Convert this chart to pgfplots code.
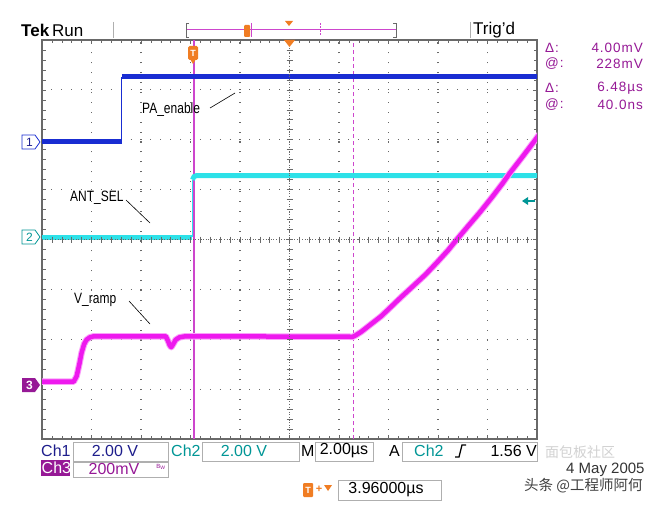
\documentclass[border=0pt]{standalone}
\usepackage{fontspec}
\setmainfont{Liberation Sans}
\newfontfamily\narrow{Liberation Sans}[FakeStretch=0.8]
\newfontfamily\wide{Liberation Sans}[LetterSpace=7]
\newfontfamily\cjk{Noto Sans CJK SC}
\usepackage{pgfplots}
\pgfplotsset{compat=1.18}
\definecolor{c1}{RGB}{25,45,210}
\definecolor{c1t}{RGB}{30,30,140}
\definecolor{c2}{RGB}{45,225,232}
\definecolor{c2t}{RGB}{0,150,150}
\definecolor{c3}{RGB}{238,25,238}
\definecolor{c3h}{RGB}{250,160,250}
\definecolor{c3t}{RGB}{150,25,150}
\definecolor{cur}{RGB}{205,70,205}
\definecolor{org}{RGB}{240,125,35}
\definecolor{grd}{RGB}{105,105,105}
\definecolor{boxc}{RGB}{175,175,175}
\begin{document}
\begin{tikzpicture}
\path[use as bounding box, fill=white] (0pt,0pt) rectangle (661pt,-505pt);
\begin{axis}[
  at={(42pt,-439pt)}, anchor=south west,
  scale only axis, width=495pt, height=399pt,
  xmin=0, xmax=10, ymin=-4, ymax=4,
  xtick={0,...,10}, ytick={-4,...,4},
  xticklabels={}, yticklabels={},
  minor x tick num=4, minor y tick num=4,
  tick align=inside,
  major tick length=4pt, minor tick length=3.5pt,
  every tick/.style={grd, line width=0.6pt},
  grid=major,
  major grid style={grd, line width=1.1pt, dash pattern=on 1.1pt off 8.8pt, dash phase=0.55pt},
  axis line style={grd, line width=1.8pt},
  clip=true,
]
% cursors
\addplot[cur, line width=1.2pt] coordinates {(3.07,-4) (3.07,4)};
\addplot[cur, line width=1.2pt, dash pattern=on 4pt off 3pt] coordinates {(6.29,-4) (6.29,4)};
% Ch1
\addplot[c1, line width=5pt] coordinates {(-0.1,1.96) (1.615,1.96)};
\addplot[c1, line width=1pt] coordinates {(1.615,1.96) (1.615,3.26)};
\addplot[c1, line width=5pt] coordinates {(1.615,3.26) (10.1,3.26)};
% Ch2
\addplot[c2, line width=5pt] coordinates {(-0.1,0.05) (3.04,0.05)};
\addplot[c2, line width=1pt] coordinates {(3.04,0.05) (3.04,1.2)};
\addplot[c2, line width=5pt] coordinates {(3.04,1.2) (3.07,1.26) (3.12,1.28) (10.1,1.28)};
% Ch3
\addplot[c3h, line width=6.5pt, line join=round] coordinates {
(-0.1,-2.85) (0.64,-2.85) (0.70,-2.74) (0.75,-2.52) (0.80,-2.27) (0.85,-2.10) (0.90,-2.01) (0.97,-1.96) (1.05,-1.94)
(2.50,-1.94) (2.54,-2.02) (2.58,-2.12) (2.61,-2.16) (2.65,-2.10) (2.70,-2.01) (2.78,-1.96) (2.9,-1.94)
(6.28,-1.95) (6.34,-1.92) (6.45,-1.85) (6.63,-1.71) (6.85,-1.54) (7.03,-1.37) (7.25,-1.16) (7.49,-0.94)
(7.75,-0.70) (7.98,-0.46) (8.2,-0.22) (8.38,0.0) (8.6,0.26) (8.85,0.55) (9.1,0.86) (9.3,1.12) (9.45,1.33)
(9.7,1.65) (9.96,1.99) (10.1,2.18)};
\addplot[c3, line width=4.5pt, line join=round] coordinates {
(-0.1,-2.85) (0.64,-2.85) (0.70,-2.74) (0.75,-2.52) (0.80,-2.27) (0.85,-2.10) (0.90,-2.01) (0.97,-1.96) (1.05,-1.94)
(2.50,-1.94) (2.54,-2.02) (2.58,-2.12) (2.61,-2.16) (2.65,-2.10) (2.70,-2.01) (2.78,-1.96) (2.9,-1.94)
(6.28,-1.95) (6.34,-1.92) (6.45,-1.85) (6.63,-1.71) (6.85,-1.54) (7.03,-1.37) (7.25,-1.16) (7.49,-0.94)
(7.75,-0.70) (7.98,-0.46) (8.2,-0.22) (8.38,0.0) (8.6,0.26) (8.85,0.55) (9.1,0.86) (9.3,1.12) (9.45,1.33)
(9.7,1.65) (9.96,1.99) (10.1,2.18)};
\end{axis}
\begin{scope}[x=1pt,y=-1pt]
% center lines of graticule
\draw[grd, line width=0.8pt, dash pattern=on 0.8pt off 1.8pt] (289.5,40) -- (289.5,439);
\draw[grd, line width=0.8pt, dash pattern=on 0.8pt off 1.8pt] (42,239.5) -- (537,239.5);
\foreach \i in {1,...,49} {\draw[grd, line width=0.6pt] (42+\i*9.9,236.5) -- (42+\i*9.9,242.5);}
\foreach \i in {1,...,39} {\draw[grd, line width=0.6pt] (286.5,40+\i*9.975) -- (292.5,40+\i*9.975);}
% top bar
\node[anchor=west, inner sep=0pt, font=\fontsize{17}{17}\selectfont] at (21,30) {\textbf{Tek}\,Run};
\draw[boxc, line width=0.8pt] (113,22) -- (113,38);
\draw[boxc, line width=0.8pt] (470,22) -- (470,38);
\draw[cur, line width=1pt] (186,30) -- (396,30);
\draw[grd, line width=0.9pt] (189,23) -- (186,23) -- (186,37) -- (189,37);
\draw[grd, line width=0.9pt] (393,23) -- (396,23) -- (396,37) -- (393,37);
\draw[cur, line width=0.8pt] (251,23) -- (251,37);
\draw[cur, line width=0.8pt, dash pattern=on 2pt off 1.5pt] (320,23) -- (320,37);
\fill[org, rounded corners=1pt] (244,25) rectangle (250,37);
\fill[org] (285,21) -- (293,21) -- (289,26) -- cycle;
\node[anchor=west, inner sep=0pt, font=\fontsize{17}{17}\selectfont] at (473,30) {Trig'd};
% trigger markers on graticule
\fill[org] (284,40) -- (295,40) -- (289.5,47) -- cycle;
\fill[org, rounded corners=1.5pt] (188,46) rectangle (198,60);
\fill[org] (190,59) -- (196,59) -- (193,64) -- cycle;
\node[white, inner sep=0pt, font=\bfseries\fontsize{9}{9}\selectfont] at (193,53) {T};
% trigger level arrow
\fill[c2t] (522,201) -- (528,197) -- (528,205) -- cycle;
\draw[c2t, line width=1.5pt] (527,201) -- (535,201);
% channel markers
\draw[c1, line width=0.8pt, fill=white] (22,135) -- (35,135) -- (40,142) -- (35,149) -- (22,149) -- cycle;
\node[c1t, inner sep=0pt, font=\fontsize{12}{12}\selectfont] at (29.5,142) {1};
\draw[c2t, line width=0.8pt, fill=white] (22,230) -- (35,230) -- (40,237) -- (35,244) -- (22,244) -- cycle;
\node[c2t, inner sep=0pt, font=\fontsize{12}{12}\selectfont] at (29.5,237) {2};
\fill[c3t] (22,378) -- (35,378) -- (40,385) -- (35,392) -- (22,392) -- cycle;
\node[white, inner sep=0pt, font=\bfseries\fontsize{12}{12}\selectfont] at (29.5,385) {3};
% trace labels
\node[anchor=west, inner sep=0pt, font=\narrow\fontsize{15}{15}\selectfont] at (142,110) {PA\_enable};
\draw[black, line width=0.6pt] (210,108) -- (235,93);
\node[anchor=west, inner sep=0pt, font=\narrow\fontsize{15}{15}\selectfont] at (70,198) {ANT\_SEL};
\draw[black, line width=0.6pt] (126,200) -- (150,223);
\node[anchor=west, inner sep=0pt, font=\narrow\fontsize{15}{15}\selectfont] at (74,300) {V\_ramp};
\draw[black, line width=0.6pt] (129,301) -- (150,324);
% right readouts
\begin{scope}[font=\wide\fontsize{13.5}{13.5}\selectfont, text=c3t]
\node[anchor=west, inner sep=0pt] at (545,47.5) {Δ:};
\node[anchor=east, inner sep=0pt] at (643,47.5) {4.00mV};
\node[anchor=west, inner sep=0pt] at (545,64) {@:};
\node[anchor=east, inner sep=0pt] at (643,64) {228mV};
\node[anchor=west, inner sep=0pt] at (545,88) {Δ:};
\node[anchor=east, inner sep=0pt] at (643,88) {6.48µs};
\node[anchor=west, inner sep=0pt] at (545,104.5) {@:};
\node[anchor=east, inner sep=0pt] at (643,104.5) {40.0ns};
\end{scope}
% bottom readouts
\begin{scope}[font=\fontsize{16}{16}\selectfont]
\node[c1t, anchor=west, inner sep=0pt] at (41,451) {Ch1};
\draw[boxc, line width=0.7pt] (73,442) rectangle (168,461);
\node[c1t, inner sep=0pt] at (115,451) {2.00 V};
\node[c2t, anchor=west, inner sep=0pt] at (171,451) {Ch2};
\draw[boxc, line width=0.7pt] (202,442) rectangle (299,461);
\node[c2t, inner sep=0pt] at (244,451) {2.00 V};
\node[anchor=west, inner sep=0pt] at (301,451) {M};
\draw[boxc, line width=0.7pt] (315,442) rectangle (373,461);
\node[inner sep=0pt] at (344,451) {2.00µs};
\node[anchor=west, inner sep=0pt] at (389,451) {A};
\draw[boxc, line width=0.7pt] (402,442) rectangle (537,461);
\node[c2t, anchor=west, inner sep=0pt] at (414,451) {Ch2};
\draw[black, line width=1.3pt] (455,457) -- (459,457) -- (462,445) -- (466,445);
\node[anchor=east, inner sep=0pt] at (537,451) {1.56 V};
\fill[c3t] (41,460) rectangle (70,476);
\node[white, anchor=west, inner sep=0pt] at (41.5,468) {Ch3};
\draw[boxc, line width=0.7pt] (73,462) rectangle (168,477);
\node[c3t, inner sep=0pt] at (114,469) {200mV};
\node[c3t, inner sep=0pt, font=\fontsize{6}{6}\selectfont] at (161,467) {B\textsubscript{W}};
\fill[org, rounded corners=1pt] (303,483) rectangle (313,497);
\node[white, inner sep=0pt, font=\bfseries\fontsize{9}{9}\selectfont] at (308,490) {T};
\node[org, inner sep=0pt, font=\bfseries\fontsize{11}{11}\selectfont] at (319,489) {+};
\fill[org] (324,485) -- (332,485) -- (328,491) -- cycle;
\draw[boxc, line width=0.7pt] (338,480) rectangle (441,500);
\node[inner sep=0pt] at (386,490) {3.96000µs};
\end{scope}
% date and watermark
\node[gray!35, anchor=west, inner sep=0pt, font=\cjk\fontsize{14}{14}\selectfont] at (545,452) {面包板社区};
\node[black!80, anchor=west, inner sep=0pt, font=\fontsize{15}{15}\selectfont] at (566,470) {4 May 2005};
\node[black!75, anchor=west, inner sep=0pt, font=\cjk\fontsize{14.5}{14.5}\selectfont] at (524,486) {头条 @工程师阿何};
\end{scope}
\end{tikzpicture}
\end{document}
